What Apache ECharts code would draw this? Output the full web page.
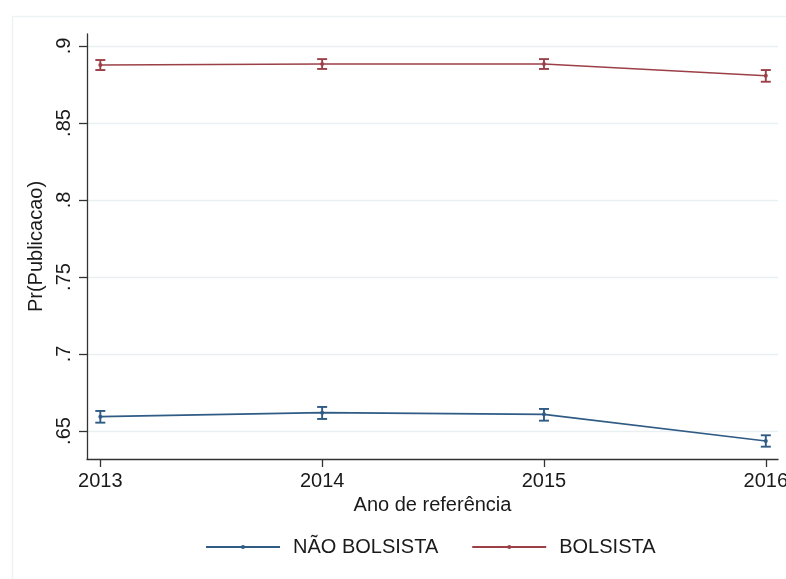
<!DOCTYPE html>
<html>
<head>
<meta charset="utf-8">
<script src="https://cdn.jsdelivr.net/npm/echarts@6/dist/echarts.min.js"></script>
<style>html,body{margin:0;padding:0;background:#fff}#c{width:786px;height:579px}</style>
</head>
<body>
<div id="c"></div>
<script>
var years = [2013, 2014, 2015, 2016];
var yTicks = [0.65, 0.70, 0.75, 0.80, 0.85, 0.90];
var yTickLabels = ['.65', '.7', '.75', '.8', '.85', '.9'];
var naoMean = [0.6593, 0.6619, 0.6608, 0.6435];
var naoLo   = [0.6554, 0.6578, 0.6567, 0.6398];
var naoHi   = [0.6630, 0.6656, 0.6643, 0.6472];
var bolMean = [0.8877, 0.8883, 0.8883, 0.8807];
var bolLo   = [0.8844, 0.8851, 0.8851, 0.8768];
var bolHi   = [0.8909, 0.8915, 0.8915, 0.8844];
var names = ['NÃO BOLSISTA', 'BOLSISTA'];
var colors = ['#2f5b84', '#9c4048'];

function pairs(xs, ys) { return xs.map(function (x, i) { return [x, ys[i]]; }); }
function ciData(xs, lo, hi) { return xs.map(function (x, i) { return [x, lo[i], hi[i]]; }); }

function errRender(color) {
  return function (params, api) {
    var x = api.value(0);
    var p1 = api.coord([x, api.value(1)]);
    var p2 = api.coord([x, api.value(2)]);
    var hw = 5;
    var st = { stroke: color, lineWidth: 1.9 };
    return {
      type: 'group',
      children: [
        { type: 'line', shape: { x1: p1[0], y1: p1[1], x2: p2[0], y2: p2[1] }, style: st },
        { type: 'line', shape: { x1: p1[0] - hw, y1: p1[1], x2: p1[0] + hw, y2: p1[1] }, style: st },
        { type: 'line', shape: { x1: p2[0] - hw, y1: p2[1], x2: p2[0] + hw, y2: p2[1] }, style: st }
      ]
    };
  };
}

var font = 'Liberation Sans, Arial, sans-serif';
var chart = echarts.init(document.getElementById('c'), null, { renderer: 'canvas' });
chart.setOption({
  animation: false,
  backgroundColor: '#ffffff',
  graphic: [{
    type: 'rect', left: 10, top: 14, shape: { width: 800, height: 600 },
    style: { fill: 'none', stroke: '#edf3f4', lineWidth: 1.5 }, silent: true, z: -10
  }],
  grid: { left: 87, right: 8, top: 34, bottom: 120, containLabel: false, outerBoundsMode: 'none' },
  xAxis: {
    type: 'value', min: 2012.94, max: 2016.055,
    name: 'Ano de referência', nameLocation: 'middle', nameGap: 33,
    nameTextStyle: { fontFamily: font, fontSize: 20, color: '#1a1a1a' },
    axisLine: { show: true, lineStyle: { color: '#333', width: 1.3 } },
    axisTick: { show: true, length: 8, customValues: years, lineStyle: { color: '#333', width: 1.3 } },
    axisLabel: { customValues: years, margin: 12, fontFamily: font, fontSize: 20, color: '#1a1a1a',
      hideOverlap: false,
      formatter: function (v) { return String(Math.round(v)); } },
    splitLine: { show: false }
  },
  yAxis: {
    type: 'value', min: 0.6318, max: 0.9078,
    name: 'Pr(Publicacao)', nameLocation: 'middle', nameGap: 41, nameRotate: 90,
    nameTextStyle: { fontFamily: font, fontSize: 20, color: '#1a1a1a' },
    axisLine: { show: true, lineStyle: { color: '#333', width: 1.3 } },
    axisTick: { show: true, length: 8, customValues: yTicks, lineStyle: { color: '#333', width: 1.3 } },
    axisLabel: { customValues: yTicks, rotate: 90, align: 'center', verticalAlign: 'bottom', margin: 13,
      fontFamily: font, fontSize: 20, color: '#1a1a1a',
      formatter: function (v) {
        for (var i = 0; i < yTicks.length; i++) { if (Math.abs(v - yTicks[i]) < 1e-6) return yTickLabels[i]; }
        return '';
      } },
    splitLine: { show: true, lineStyle: { color: '#e8f0f2', width: 1.3 } }
  },
  legend: {
    data: names, left: 200, top: 532, itemWidth: 74, itemHeight: 5, itemGap: 33,
    textStyle: { fontFamily: font, fontSize: 20, color: '#1a1a1a', padding: [0, 0, 0, 8] }
  },
  series: [
    { name: names[0], type: 'line', data: pairs(years, naoMean), color: colors[0],
      symbol: 'circle', symbolSize: 4, lineStyle: { width: 1.6, color: colors[0] },
      itemStyle: { color: colors[0] }, z: 3 },
    { name: names[1], type: 'line', data: pairs(years, bolMean), color: colors[1],
      symbol: 'circle', symbolSize: 4, lineStyle: { width: 1.6, color: colors[1] },
      itemStyle: { color: colors[1] }, z: 3 },
    { name: names[0] + ' CI', type: 'custom', renderItem: errRender(colors[0]),
      data: ciData(years, naoLo, naoHi), encode: { x: 0, y: [1, 2] }, z: 4 },
    { name: names[1] + ' CI', type: 'custom', renderItem: errRender(colors[1]),
      data: ciData(years, bolLo, bolHi), encode: { x: 0, y: [1, 2] }, z: 4 }
  ]
});
</script>
</body>
</html>
